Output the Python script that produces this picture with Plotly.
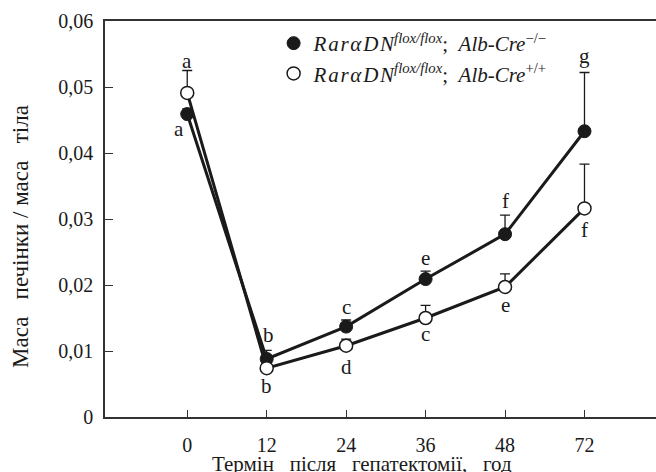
import plotly.graph_objects as go

# ---- data ----
hours = ["0", "12", "24", "36", "48", "72"]
ko_mean = [0.0459, 0.0088, 0.0137, 0.0209, 0.0277, 0.0433]
ko_err = [0.0008, 0.0013, 0.0010, 0.0012, 0.0029, 0.0089]
wt_mean = [0.0491, 0.0074, 0.0108, 0.0150, 0.0197, 0.0316]
wt_err = [0.0034, 0.0008, 0.0010, 0.0019, 0.0020, 0.0067]
ko_letters = ["a", "b", "c", "e", "f", "g"]
wt_letters = ["a", "b", "d", "c", "e", "f"]
y_ticks = [0, 0.01, 0.02, 0.03, 0.04, 0.05, 0.06]
y_tick_labels = ["0", "0,01", "0,02", "0,03", "0,04", "0,05", "0,06"]
HS = "\u200a"
gene = HS.join(["R", "a", "r", "α", "D", "N"])
ko_name = f"<i>{gene}</i><sup><i>flox/flox</i></sup>;  <i>Alb-Cre</i><sup>−/−</sup>"
wt_name = f"<i>{gene}</i><sup><i>flox/flox</i></sup>;  <i>Alb-Cre</i><sup>+/+</sup>"
NB = "\u00a0"
x_title = f"Термін{NB*3}після{NB*3}гепатектомії,{NB*3}год"
y_title = f"Маса{NB*3}печінки{NB}/{NB}маса{NB*3}тіла"

# label placement: (anchor on error cap?, xshift, yshift) in px
ko_place = [("mean", -8, -15), ("cap", 2, 15), ("cap", 0, 13), ("cap", 0, 13), ("cap", 0, 14), ("cap", 0, 16)]
wt_place = [("cap", 0, 10), ("mean", 0, -18), ("mean", 0, -21), ("mean", 0, -16), ("mean", 0, -18), ("mean", 0, -22)]

FONT = "Liberation Serif"
INK = "#1a1a1a"

fig = go.Figure()
fig.add_trace(go.Scatter(
    x=hours, y=ko_mean, mode="lines+markers", name=ko_name,
    line=dict(color=INK, width=3),
    marker=dict(size=13, color=INK, line=dict(color=INK, width=1)),
    error_y=dict(type="data", array=ko_err, arrayminus=[0] * len(ko_err),
                 symmetric=False, color=INK, thickness=1.3, width=5),
    showlegend=False,
))
fig.add_trace(go.Scatter(
    x=hours, y=wt_mean, mode="lines+markers", name=wt_name,
    line=dict(color=INK, width=3),
    marker=dict(size=13, color="white", line=dict(color=INK, width=1.5)),
    error_y=dict(type="data", array=wt_err, arrayminus=[0] * len(wt_err),
                 symmetric=False, color=INK, thickness=1.3, width=5),
    showlegend=False,
))
# legend entries (marker only)
fig.add_trace(go.Scatter(x=[None], y=[None], mode="markers", name=ko_name,
                         marker=dict(size=13, color=INK, line=dict(color=INK, width=1))))
fig.add_trace(go.Scatter(x=[None], y=[None], mode="markers", name=wt_name,
                         marker=dict(size=13, color="white", line=dict(color=INK, width=1.5))))

annotations = []
for means, errs, letters, place in [(ko_mean, ko_err, ko_letters, ko_place),
                                     (wt_mean, wt_err, wt_letters, wt_place)]:
    for i, (m, e, t, (anc, dx, dy)) in enumerate(zip(means, errs, letters, place)):
        yv = m + e if anc == "cap" else m
        annotations.append(dict(x=i, y=yv, xref="x", yref="y", text=t, showarrow=False,
                                xshift=dx, yshift=dy, yanchor="middle", xanchor="center",
                                font=dict(family=FONT, size=21, color=INK)))

annotations.append(dict(x=(362 - 105) / 551, y=-(464 - 417) / 396, xref="paper", yref="paper",
                        text=x_title, showarrow=False, xanchor="center", yanchor="middle",
                        font=dict(family=FONT, size=21, color=INK)))
annotations.append(dict(x=(21 - 105) / 551, y=(417 - 237) / 396, xref="paper", yref="paper",
                        text=y_title, showarrow=False, textangle=-90, xanchor="center",
                        yanchor="middle", font=dict(family=FONT, size=23, color=INK)))

fig.update_layout(
    width=656, height=472,
    margin=dict(l=105, r=0, t=21, b=55),
    paper_bgcolor="white", plot_bgcolor="white",
    font=dict(family=FONT, size=19, color=INK),
    annotations=annotations,
    legend=dict(x=0.306, y=0.995, xanchor="left", yanchor="top", bgcolor="rgba(0,0,0,0)",
                font=dict(family=FONT, size=21, color=INK), itemwidth=30,
                tracegroupgap=0),
    xaxis=dict(type="category", categoryorder="array", categoryarray=hours,
               range=[-1.035, 5.9], showgrid=False, zeroline=False,
               showline=True, linecolor="#333", linewidth=1.5, mirror=True,
               ticks="inside", ticklen=7, tickcolor="#333", tickwidth=1.2,
               ticklabelstandoff=9,
               tickfont=dict(family=FONT, size=20, color=INK)),
    yaxis=dict(range=[0, 0.06], tickvals=y_ticks, ticktext=y_tick_labels,
               showgrid=False, zeroline=False, showline=True, linecolor="#333",
               linewidth=1.5, mirror=False, ticks="inside", ticklen=8,
               tickcolor="#333", tickwidth=1.2, ticklabelstandoff=6,
               tickfont=dict(family=FONT, size=20, color=INK)),
)

fig.write_html("out.html", config={"displayModeBar": False},
               post_script="document.body.style.margin='0';document.body.style.overflow='hidden';")
